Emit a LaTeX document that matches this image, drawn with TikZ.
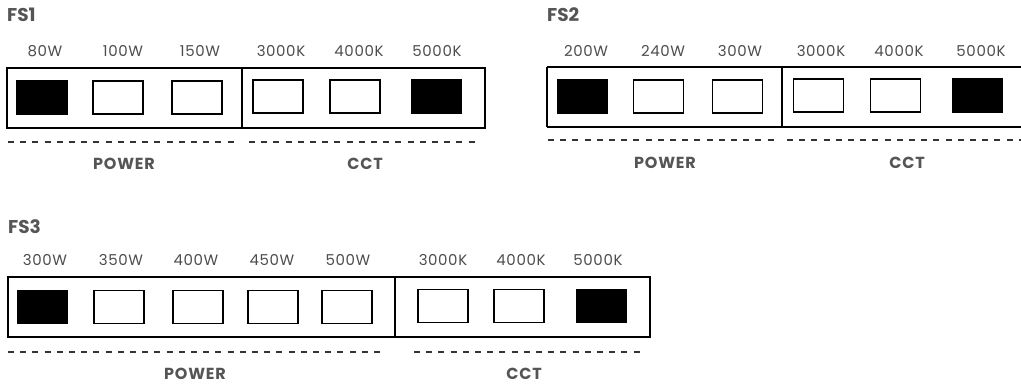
\documentclass[tikz,border=0pt]{standalone}
\usepackage{fontspec}
\setmainfont{Poppins}
\definecolor{txtgray}{HTML}{4D4D4D}
\definecolor{ttlgray}{HTML}{555555}
\definecolor{dashgray}{HTML}{333333}
\begin{document}
\begin{tikzpicture}[x=1pt,y=-1pt,
  lbl/.style={text=txtgray, font=\fontsize{15}{15}\selectfont\addfontfeatures{LetterSpace=4}, inner sep=0pt},
  ttl/.style={text=ttlgray, font=\fontsize{18.5}{18.5}\selectfont\bfseries, inner sep=0pt, anchor=west},
  grp/.style={text=ttlgray, font=\fontsize{16}{16}\selectfont\bfseries\addfontfeatures{LetterSpace=5}, inner sep=0pt},
  frame/.style={draw=black, line width=1.3pt},
  sw/.style={draw=black, line width=1.2pt, minimum width=50pt, minimum height=33pt, inner sep=0pt, outer sep=0pt},
  onsw/.style={sw, fill=black},
  offsw/.style={sw, fill=white},
  dsh/.style={draw=dashgray, line width=1.2pt, dash pattern=on 6pt off 6.2pt},
]
\useasboundingbox (0,0) rectangle (1021,387);
\clip (0,0) rectangle (1021,387);
% ---------- FS1 ----------
\node[ttl] (t1) at (7,15) {FS1};
\draw[frame] (7,68) rectangle (485,128);
\draw[frame] (242,68) -- (242,128);
\node[lbl] (l11) at (45,51) {80W};
\node[lbl] (l12) at (123,51) {100W};
\node[lbl] (l13) at (200,51) {150W};
\node[lbl] (l14) at (281,51) {3000K};
\node[lbl] (l15) at (359,51) {4000K};
\node[lbl] (l16) at (437,51) {5000K};
\node[onsw]  (s11) at (42,97.5) {};
\node[offsw] (s12) at (118,97.5) {};
\node[offsw] (s13) at (197,97.5) {};
\node[offsw] (s14) at (278,96.5) {};
\node[offsw] (s15) at (355,96.5) {};
\node[onsw]  (s16) at (436.5,96.5) {};
\draw[dsh] (8,142) -- (233.6,142);
\draw[dsh] (249,142) -- (474.6,142);
\node[grp] (p1) at (124,164) {POWER};
\node[grp] (c1) at (365,164) {CCT};
% ---------- FS2 ----------
\node[ttl] (t2) at (547,15) {FS2};
\draw[frame] (547,67) -- (1030,67);
\draw[frame] (547,127) -- (1030,127);
\draw[frame] (547,67) -- (547,127);
\draw[frame] (782,67) -- (782,127);
\node[lbl] (l21) at (586,51) {200W};
\node[lbl] (l22) at (663,51) {240W};
\node[lbl] (l23) at (740,51) {300W};
\node[lbl] (l24) at (821,51) {3000K};
\node[lbl] (l25) at (899,51) {4000K};
\node[lbl] (l26) at (981,51) {5000K};
\node[onsw]  (s21) at (582.5,96.5) {};
\node[offsw] (s22) at (658.5,96.5) {};
\node[offsw] (s23) at (737.5,96.5) {};
\node[offsw] (s24) at (818.5,95.5) {};
\node[offsw] (s25) at (895.5,95.5) {};
\node[onsw]  (s26) at (977.5,95.5) {};
\draw[dsh] (548,140) -- (773.6,140);
\draw[dsh] (787,140) -- (1030,140);
\node[grp] (p2) at (665,163) {POWER};
\node[grp] (c2) at (907,163) {CCT};
% ---------- FS3 ----------
\node[ttl] (t3) at (8,227) {FS3};
\draw[frame] (8,277) rectangle (650,337);
\draw[frame] (395,277) -- (395,337);
\node[lbl] (l31) at (45,260) {300W};
\node[lbl] (l32) at (121,260) {350W};
\node[lbl] (l33) at (196,260) {400W};
\node[lbl] (l34) at (272,260) {450W};
\node[lbl] (l35) at (348,260) {500W};
\node[lbl] (l36) at (443,260) {3000K};
\node[lbl] (l37) at (521,260) {4000K};
\node[lbl] (l38) at (598,260) {5000K};
\node[onsw]  (s31) at (42.5,307) {};
\node[offsw] (s32) at (119,307) {};
\node[offsw] (s33) at (198,307) {};
\node[offsw] (s34) at (273,307) {};
\node[offsw] (s35) at (347,307) {};
\node[offsw] (s36) at (443,306) {};
\node[offsw] (s37) at (519,306) {};
\node[onsw]  (s38) at (601.5,306) {};
\draw[dsh] (8,352) -- (380,352);
\draw[dsh] (414,352) -- (639.6,352);
\node[grp] (p3) at (195,374) {POWER};
\node[grp] (c3) at (524,374) {CCT};
\end{tikzpicture}
\end{document}
